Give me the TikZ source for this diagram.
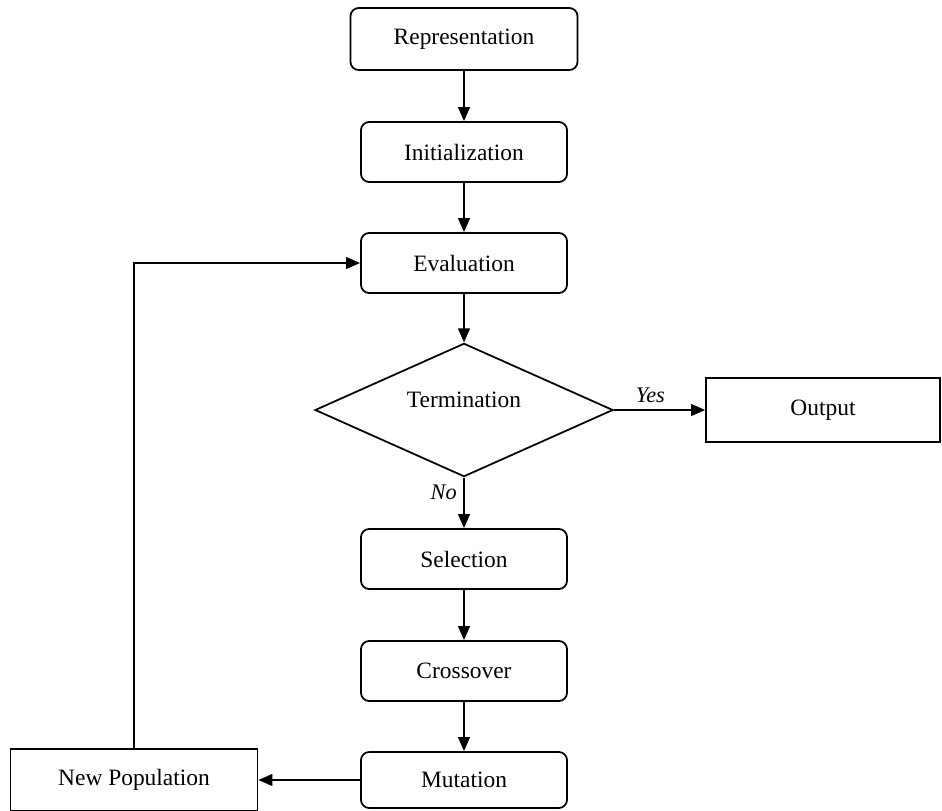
\documentclass[tikz,border=0pt]{standalone}
\usepackage{fontspec}
\setmainfont{Liberation Serif}
\usepackage{tikz}
\usetikzlibrary{positioning, arrows.meta, shapes.geometric}

\tikzset{
    stepbox/.style={draw, rounded corners=7pt, line width=1.5pt, minimum width=6.18cm, minimum height=1.8cm, inner sep=0pt},
    plainbox/.style={draw, line width=1.5pt, minimum height=1.9cm, inner sep=0pt},
    decision/.style={draw, diamond, line width=1.5pt, minimum width=8.94cm, minimum height=4cm, inner sep=0pt},
    flow/.style={-{Triangle[length=12pt, width=10pt]}, line width=1.8pt},
    lbl/.style={font=\fontsize{19}{22}\selectfont\itshape}
}

\begin{document}
\begin{tikzpicture}[x=0.03cm, y=-0.03cm, font=\fontsize{20}{24}\selectfont]
    \useasboundingbox (0,0) rectangle (942,811);

    % Main column
    \node[stepbox, minimum width=6.81cm, minimum height=1.86cm] (rep) at (464,39) {Representation};
    \node[stepbox] (init) at (464,152) {Initialization};
    \node[stepbox] (eval) at (464,263) {Evaluation};
    \node[decision] (term) at (464,410) {};
    \node at (464,400) {Termination};
    \node[stepbox] (sel) at (464,559) {Selection};
    \node[stepbox] (cross) at (464,671) {Crossover};
    \node[stepbox, minimum height=1.68cm] (mut) at (464,780) {Mutation};

    % Side boxes
    \node[plainbox, minimum width=7.02cm] (out) at (823,410) {Output};
    \node[plainbox, minimum width=7.41cm, minimum height=1.86cm] (newpop) at (134,780) {New Population};

    % Flow
    \draw[flow] (rep) -- (init);
    \draw[flow] (init) -- (eval);
    \draw[flow] (eval) -- (term.north);
    \draw[flow] (term.east) -- (out.west) node[lbl, pos=0.4, above=2pt] {Yes};
    \draw[flow] (term.south) -- (sel.north) node[lbl, pos=0.3, left=2pt] {No};
    \draw[flow] (sel) -- (cross);
    \draw[flow] (cross) -- (mut);
    \draw[flow] (mut.west) -- (newpop.east);

    % Loop back
    \draw[flow] (newpop.north) |- (eval.west);

\end{tikzpicture}
\end{document}
